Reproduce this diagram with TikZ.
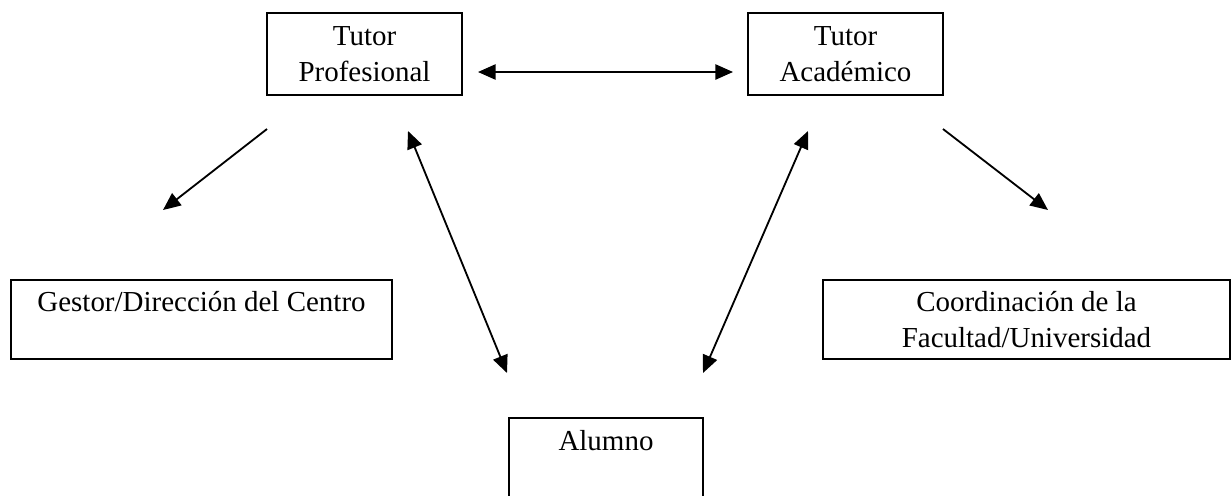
\documentclass[tikz,border=0pt]{standalone}
\usepackage{fontspec}
\setmainfont{Liberation Serif}
\usetikzlibrary{arrows.meta}
\begin{document}
\begin{tikzpicture}[x=0.025cm, y=-0.025cm,
  every node/.style={draw, line width=1.4pt, inner sep=0pt, align=center, font=\fontsize{20.6pt}{26pt}\selectfont},
  flecha/.style={line width=1.3pt, -{Triangle[length=0.44cm, width=0.38cm]}},
  doble/.style={line width=1.3pt, {Triangle[length=0.44cm, width=0.38cm]}-{Triangle[length=0.44cm, width=0.38cm]}}]
  \useasboundingbox (0,0) rectangle (1231,495);
  \node (prof) [minimum width=4.875cm, minimum height=2.05cm] at (364.5,54) {Tutor\\Profesional};
  \node (acad) [minimum width=4.875cm, minimum height=2.05cm] at (845.5,54) {Tutor\\Académico};
  \node (gest) [minimum width=9.525cm, minimum height=1.975cm] at (201.5,319.5) {Gestor/Dirección del Centro\\\mbox{}};
  \node (coord) [minimum width=10.175cm, minimum height=1.975cm] at (1026.5,319.5) {Coordinación de la\\Facultad/Universidad};
  \node (alum) [minimum width=4.85cm, minimum height=2.05cm] at (606,459) {Alumno\\\mbox{}};
  \coordinate (h1) at (478,72);
  \coordinate (h2) at (733,72);
  \coordinate (l1) at (267,129);
  \coordinate (l2) at (163,210);
  \coordinate (r1) at (943,129);
  \coordinate (r2) at (1048,210);
  \coordinate (pa) at (408,131);
  \coordinate (pb) at (507,373);
  \coordinate (aa) at (808,131);
  \coordinate (ab) at (703,373);
  \draw [doble] (h1) -- (h2);
  \draw [flecha] (l1) -- (l2);
  \draw [flecha] (r1) -- (r2);
  \draw [doble] (pa) -- (pb);
  \draw [doble] (aa) -- (ab);
\end{tikzpicture}
\end{document}
